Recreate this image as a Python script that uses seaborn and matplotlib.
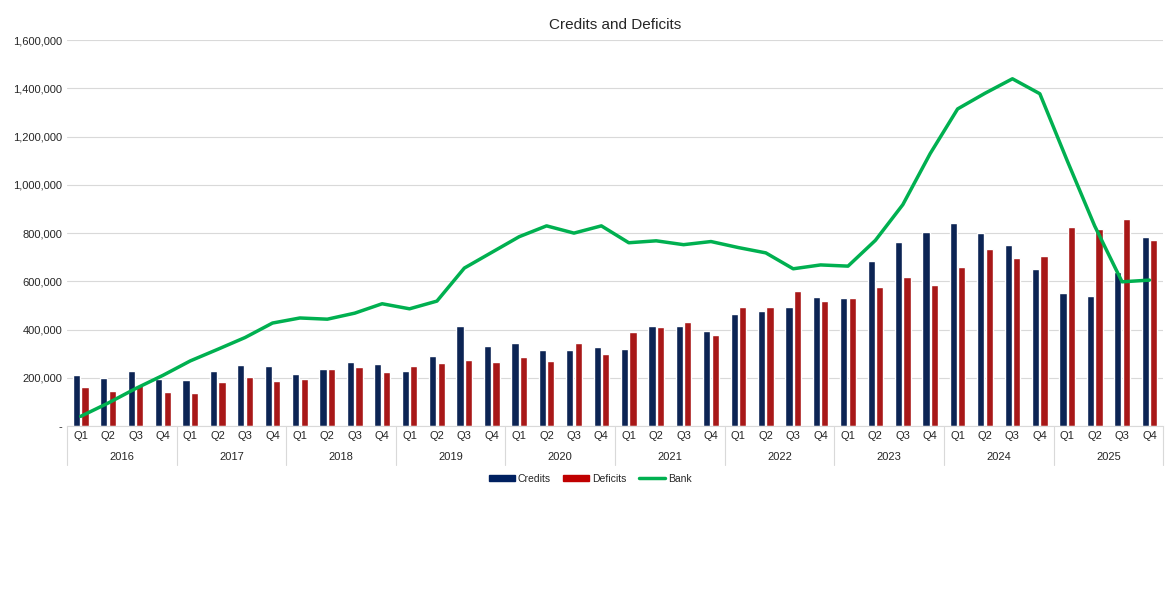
import matplotlib
matplotlib.use("Agg")
import matplotlib.pyplot as plt
import seaborn as sns
import pandas as pd
import numpy as np

years = ["2016","2017","2018","2019","2020","2021","2022","2023","2024","2025"]
quarters = ["Q1","Q2","Q3","Q4"]
credits = [210,200,230,195, 190,230,255,250, 215,235,265,258, 230,290,415,330,
           345,315,315,328, 320,415,415,395, 465,475,495,535, 530,685,765,805,
           840,800,752,650, 550,540,640,782]
deficits = [162,145,170,140, 135,183,205,185, 195,235,243,222, 250,262,273,265,
            285,270,345,300, 390,410,432,378, 495,495,560,520, 530,578,620,583,
            660,735,695,705, 827,818,860,772]
bank = [40,95,155,210, 270,318,367,427, 448,443,468,507, 486,518,655,720,
        785,830,800,830, 760,768,752,765, 740,718,652,668, 663,770,918,1130,
        1315,1380,1440,1378, 1100,830,598,605]

n = len(credits)
idx = list(range(n))
df = pd.DataFrame({"i": idx*2,
                   "v": [c*1000 for c in credits] + [d*1000 for d in deficits],
                   "s": ["Credits"]*n + ["Deficits"]*n})

sns.set_style("white")
plt.rcParams["font.family"] = ["Liberation Sans", "DejaVu Sans"]
fig = plt.figure(figsize=(11.69, 6.0), dpi=100)
ax = fig.add_axes([0.0573, 0.29, 0.9377, 0.643])
sns.barplot(data=df, x="i", y="v", hue="s", palette={"Credits": "#002060", "Deficits": "#C00000"},
            width=0.62, gap=0.15, ax=ax, legend=False)
sns.lineplot(x=idx, y=[b*1000 for b in bank], color="#00B050", linewidth=2.5, ax=ax, legend=False)
ax.set_xlim(-0.5, n - 0.5)
ax.set_ylim(0, 1600000)
yt = np.arange(0, 1600001, 200000)
ax.set_yticks(yt)
ax.set_yticklabels(["-"] + [f"{int(v):,}" for v in yt[1:]], fontsize=8)
ax.yaxis.grid(True, color="#D9D9D9", linewidth=0.8)
ax.set_axisbelow(True)
for s in ["top", "right", "left"]:
    ax.spines[s].set_visible(False)
ax.spines["bottom"].set_color("#D9D9D9")
ax.set_xticks(idx)
ax.set_xticklabels([q for _ in years for q in quarters], fontsize=8)
ax.tick_params(axis="both", length=0)
ax.set_xlabel(""); ax.set_ylabel("")
tr = ax.get_xaxis_transform()
for k, y in enumerate(years):
    ax.text(4*k + 1.5, -0.08, y, transform=tr, ha="center", va="center", fontsize=8)
for k in range(len(years) + 1):
    ax.plot([4*k - 0.5]*2, [0, -0.1], transform=tr, color="#D9D9D9", lw=0.8, clip_on=False)
ax.set_title("Credits and Deficits", fontsize=11, pad=8)
from matplotlib.patches import Patch
from matplotlib.lines import Line2D
handles = [Patch(color="#002060", label="Credits"), Patch(color="#C00000", label="Deficits"),
           Line2D([], [], color="#00B050", lw=2.5, label="Bank")]
fig.legend(handles=handles, loc="center", bbox_to_anchor=(0.505, 0.202), ncol=3, frameon=False,
           fontsize=7.5, handlelength=2.5, handleheight=0.5, columnspacing=1.2, handletextpad=0.3)
fig.savefig("out.png", dpi=100, facecolor="white")
